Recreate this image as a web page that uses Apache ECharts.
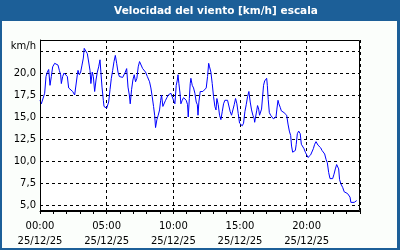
<!DOCTYPE html>
<html><head><meta charset="utf-8">
<script src="https://cdn.jsdelivr.net/npm/echarts@6/dist/echarts.min.js"></script>
<style>html,body{margin:0;padding:0;background:#fbfefb}#c{width:400px;height:250px}</style>
</head><body><div id="c"></div>
<script>
// minutes since 00:00 on 25/12/25
const times = [0,6,15,21,27,33,39,45,51,57,66,72,81,87,93,96,102,108,117,123,129,138,147,156,162,168,171,177,183,189,195,199,205,213,220,225,229,235,240,246,252,258,264,270,274,279,285,288,294,300,306,309,315,321,327,333,339,345,351,357,363,372,378,384,390,396,402,406,412,418,424,430,436,442,448,454,462,468,475,483,
493,499,505,511,516,520,526,532,538,543,547,553,559,565,571,577,583,589,595,601,607,613,618,621,625,630,634,640,646,652,658,664,667,672,676,679,685,691,697,703,708,711,715,721,727,733,742,748,754,759,763,769,775,781,787,792,796,802,808,814,820,826,832,838,844,850,856,862,868,874,880,886,892,898,904,910,916,922,928,934,940,946,952,958,964,
966,970,975,979,984,988,993,997,1002,1006,1011,1015,1020,1023,1027,1032,1038,1044,1050,1056,1062,1066,1071,1075,1081,1086,1092,1098,1104,1110,1116,1122,1128,1132,1137,1143,1149,1153,1158,1164,1168,1171,1176,1182,1188,1194,1200,1206,1212,1218,1224,1230,1236,1242,1246,1251,1257,1263,1269,1275,1281,1287,1293,1299,1305,1311,1317,1323,1329,1335,1339,1344,1348,1354,1362,1369,1377,1384,1389,1395,1399,1407,1414,1419,1425];
const speeds = [16.9,16.5,16.7,17.7,19.6,20.1,20.4,18.6,19.6,20.7,21.1,21.2,20.9,20.3,19.8,18.8,19.6,20.0,19.9,19.6,18.3,18.1,17.9,17.5,17.4,19.8,20.3,19.8,20.1,20.9,21.7,22.8,22.6,22.2,22.0,20.3,18.8,20.1,19.6,17.9,19.2,20.1,20.7,21.5,20.1,18.4,16.9,16.2,16.3,16.0,15.8,16.7,18.1,19.4,20.3,21.3,22.0,21.1,20.1,19.6,19.7,19.5,19.6,20.1,20.5,18.4,17.5,16.5,18.1,19.2,19.8,19.0,19.4,20.7,21.3,21.1,20.5,20.3,20.1,19.6,
19.0,18.3,17.3,16.2,15.2,13.8,14.7,15.2,15.8,16.9,17.5,16.2,16.4,16.9,17.2,17.5,17.7,17.7,17.5,16.9,16.5,18.6,19.2,19.8,18.8,17.7,16.5,16.9,17.2,17.3,16.9,16.4,15.0,17.1,18.8,19.4,18.6,18.3,17.7,16.7,16.4,15.2,16.7,17.9,17.7,17.9,18.1,18.3,19.6,21.1,20.7,20.1,18.8,17.3,16.2,15.8,17.1,16.4,15.2,14.7,15.6,16.5,16.9,17.0,16.9,16.7,15.6,15.2,15.8,16.4,17.1,16.5,15.4,14.3,14.1,14.0,14.3,15.6,16.4,17.3,17.9,16.7,15.8,15.2,14.8,
14.4,14.2,15.7,16.3,15.9,15.2,15.3,15.9,17.4,18.6,19.1,18.9,19.4,18.6,17.0,15.5,15.2,15.0,14.8,14.8,15.0,15.9,16.9,16.5,16.1,15.7,15.6,15.5,15.3,15.2,14.2,13.4,12.9,11.7,11.0,11.0,11.2,11.9,13.1,13.4,13.6,13.1,11.9,11.7,11.4,11.0,10.7,10.4,10.5,10.7,10.9,11.4,11.9,12.2,12.0,11.8,11.7,11.5,11.2,11.0,10.8,10.2,9.8,8.7,8.0,7.9,8.0,8.5,9.1,9.6,9.8,9.1,7.9,7.4,7.0,6.5,6.4,6.3,6.4,5.9,5.3,5.3,5.3,5.3,5.5];
const yTicks = [5, 7.5, 10, 12.5, 15, 17.5, 20, 22.5];
const yLabels = [5, 7.5, 10, 12.5, 15, 17.5, 20];
const dateLabel = '25/12/25';
const title = 'Velocidad del viento [km/h] escala';
const unit = 'km/h';

const font = 'DejaVu Sans';
const chart = echarts.init(document.getElementById('c'), null, {renderer: 'canvas'});
chart.setOption({
  animation: false,
  backgroundColor: '#fbfefb',
  grid: {left: 40, right: 40, top: 40, bottom: 39, show: false},
  graphic: [
    {type: 'rect', z: -10, shape: {x: 40, y: 40, width: 320, height: 171}, style: {fill: '#ffffff'}, silent: true},
    {type: 'rect', z: 10, shape: {x: 40.5, y: 40.5, width: 319, height: 170}, style: {fill: 'none', stroke: '#000', lineWidth: 1}, silent: true},
    {type: 'rect', shape: {x: 0, y: 0, width: 400, height: 21}, style: {fill: '#1c5f98'}, silent: true},
    {type: 'rect', shape: {x: 0, y: 0, width: 2, height: 250}, style: {fill: '#1c5f98'}, silent: true},
    {type: 'rect', shape: {x: 397, y: 0, width: 3, height: 250}, style: {fill: '#1c5f98'}, silent: true},
    {type: 'rect', shape: {x: 0, y: 248, width: 400, height: 2}, style: {fill: '#1c5f98'}, silent: true},
    {type: 'text', x: 216, y: 11, style: {text: title, fill: '#ffffff', font: 'bold 10.5px "DejaVu Sans"', align: 'center', verticalAlign: 'middle'}},
    {type: 'text', x: 36, y: 46, style: {text: unit, fill: '#000', font: '10px "DejaVu Sans"', align: 'right', verticalAlign: 'middle'}}
  ],
  xAxis: {
    type: 'value', min: 0, max: 1440, interval: 300,
    axisLine: {show: true, lineStyle: {color: '#000', width: 1}},
    axisTick: {show: true, length: 3, lineStyle: {color: '#000'}},
    minorTick: {show: true, splitNumber: 5, length: 3, lineStyle: {color: '#000'}},
    splitLine: {show: true, lineStyle: {color: '#000', type: [3, 3], width: 1}},
    axisLabel: {
      color: '#000', fontFamily: font, fontSize: 10, lineHeight: 15, margin: 8,
      showMaxLabel: false,
      formatter: v => {
        if (v >= 1440) return '';
        const h = Math.floor(v / 60);
        return String(h).padStart(2, '0') + ':00\n' + dateLabel;
      }
    }
  },
  yAxis: {
    type: 'value', min: 4.32, max: 23.75,
    axisLine: {show: true, lineStyle: {color: '#000', width: 1}},
    axisTick: {show: true, length: 0, customValues: yTicks},
    splitLine: {show: true, lineStyle: {color: '#000', type: [3, 3], width: 1}},
    axisLabel: {
      customValues: yLabels, color: '#000', fontFamily: font, fontSize: 10, margin: 4,
      formatter: v => v.toFixed(1).replace('.', ',')
    }
  },
  series: [{
    type: 'line', data: times.map((t, i) => [t, speeds[i]]),
    showSymbol: false, symbol: 'none',
    lineStyle: {color: '#0000ff', width: 1},
    z: 5
  }]
});
</script></body></html>
